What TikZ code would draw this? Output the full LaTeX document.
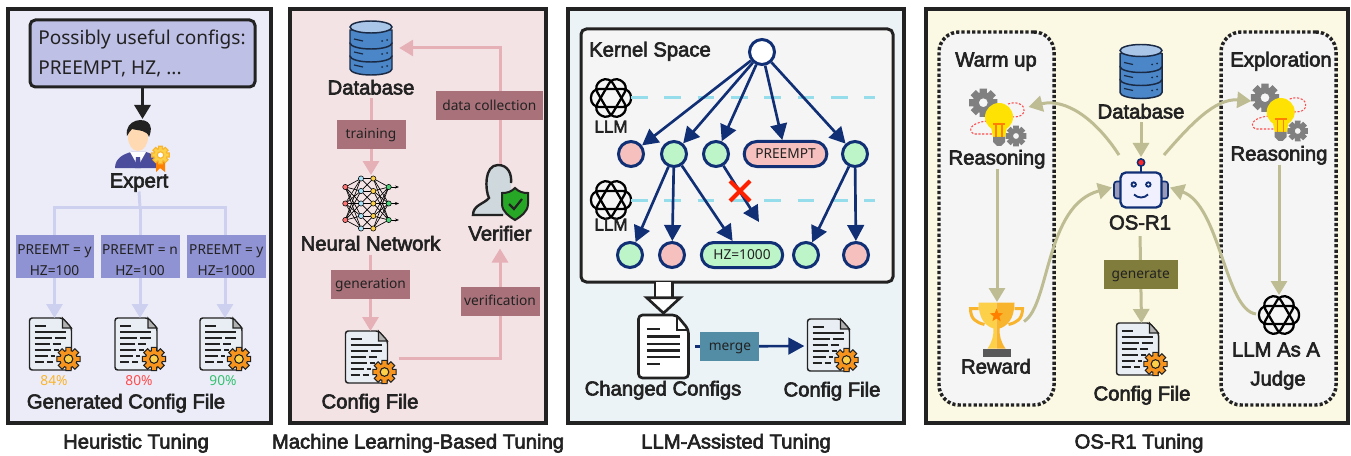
\documentclass[tikz,border=0pt]{standalone}
\usepackage{fontspec}
\setmainfont{Noto Sans}
\newfontfamily\labfont[FakeBold=3]{Liberation Sans}
\usepackage{xcolor}
\usetikzlibrary{calc, arrows.meta, shapes.misc}

\definecolor{ink}{HTML}{222222}
\definecolor{navy}{HTML}{102F75}
\definecolor{panelA}{HTML}{ECECF8}
\definecolor{panelB}{HTML}{F4E3E5}
\definecolor{panelC}{HTML}{EBF3F7}
\definecolor{panelD}{HTML}{FBF8E3}
\definecolor{softgray}{HTML}{F5F5F5}
\definecolor{ideafill}{HTML}{BFC0E6}
\definecolor{treeblue}{HTML}{CDD0EF}
\definecolor{tagblue}{HTML}{9093D3}
\definecolor{rosy}{HTML}{E5B0B6}
\definecolor{tagrose}{HTML}{A9727A}
\definecolor{tagteal}{HTML}{528DA5}
\definecolor{olive}{HTML}{BDBC93}
\definecolor{tagolive}{HTML}{807C3B}
\definecolor{badnode}{HTML}{F5C0BD}
\definecolor{goodnode}{HTML}{BDF5C8}
\definecolor{dashcyan}{HTML}{95DDEA}
\definecolor{docfill}{HTML}{E8EEF3}
\definecolor{gearorange}{HTML}{F7941E}
\definecolor{dbblue}{HTML}{4A86C8}
\definecolor{dblight}{HTML}{A9C5E8}
\definecolor{dbdark}{HTML}{1A2A44}
\definecolor{goldA}{HTML}{FDD04A}
\definecolor{goldB}{HTML}{F9B42D}
\definecolor{vergray}{HTML}{CFD8DC}

% gear: x, y, radius, fill, stroke, hole
\newcommand{\gearat}[6]{%
  \filldraw[fill=#4,draw=#5,line width=.8pt,shift={(#1,#2)}]
    (-13:#3) \foreach \a in {0,45,...,315}{ -- (\a-13:#3) -- (\a+13:#3) -- (\a+18:#3*.72) -- (\a+27:#3*.72)} -- cycle;
  \filldraw[fill=#6,draw=#5,line width=.8pt] (#1,#2) circle[radius=#3*.36];
}

\tikzset{
  boxwh/.style 2 args={minimum width=#1*0.75pt,minimum height=#2*0.75pt,inner sep=0pt,outer sep=0pt},
  panel/.style={draw=ink,line width=3pt},
  lab/.style={font=\labfont\fontsize{15.2}{19}\selectfont,text=ink,inner sep=0pt,outer xsep=0pt,outer ysep=1.5pt,text height=11.25pt,text depth=1.5pt},
  small/.style={font=\fontsize{10.3}{15.75}\selectfont,text=ink,inner sep=0pt},
  tag/.style={small,minimum height=21.75pt,fill=#1,text height=8pt,text depth=1.6pt},
  opt/.style={small,align=center,boxwh={#1}{43},fill=tagblue},
  head/.style={-{Triangle[length=10.5pt,width=12pt]}},
  blackline/.style={draw=ink,line width=2.25pt,head},
  treeline/.style={draw=treeblue,line width=2.25pt},
  rosyline/.style={draw=rosy,line width=2.25pt,head},
  oliveline/.style={draw=olive,line width=2.25pt,head},
  navyline/.style={draw=navy,line width=2pt,-{Triangle[length=12pt,width=12.5pt]}},
  knode/.style={circle,draw=navy,line width=2.25pt,minimum size=18.75pt,inner sep=0pt},
  kpill/.style={rounded rectangle,draw=navy,line width=2.25pt,minimum height=18.75pt,inner sep=0pt,small},
  dashline/.style={draw=dashcyan,line width=2.25pt,dash pattern=on 12.5pt off 12.5pt},
  halo/.style={boxwh={115}{373},draw=ink,fill=softgray,line width=2.6pt,rounded corners=15pt,dash pattern=on 2.4pt off 1.6pt},
  cfgicon/.pic={
    \filldraw[fill=docfill,draw=ink,line width=1.1pt,rounded corners=2pt] (-25,-27) -- (8,-27) -- (17,-17) -- (17,25) -- (-25,25) -- cycle;
    \filldraw[fill=black!30,draw=ink,line width=.8pt] (8,-27) -- (8,-17) -- (17,-17) -- cycle;
    \foreach \ya/\xa/\xb in {-19/-20/-9,-13/-20/11,-7/-20/-3,-7/0/11,-1/-20/-5,-1/-2/6,5/-20/-4,5/-1/4,11/-20/-7,11/-4/0,17/-20/-11,17/-8/-2}
      \draw[ink,line width=1pt] (\xa,\ya) -- (\xb,\ya);
    \gearat{14}{14}{12}{gearorange}{ink}{goldA}
  },
  dbicon/.pic={
    \foreach \y in {8,-5,-18}{
      \filldraw[fill=dbblue,draw=dbdark,line width=1.1pt] (-21,\y) -- (-21,\y+13) arc[start angle=180,end angle=0,x radius=21,y radius=6] -- (21,\y) -- cycle;
      \draw[dbdark,line width=.9pt] (-17,\y+9) -- (-8,\y+11);
      \fill[dbdark] (11,\y+11) circle[radius=1] (16,\y+10) circle[radius=1];
    }
    \filldraw[fill=dblight,draw=dbdark,line width=1.1pt] (0,-21) ellipse[x radius=21,y radius=6];
  },
  experticon/.pic={
    \fill[blue!45!black!70!white] (-25,22) .. controls (-25,12) and (-16,8) .. (-9,6) -- (6,6) .. controls (14,8) and (17,12) .. (17,22) -- cycle;
    \fill[white] (-10,6) -- (-2,20) -- (6,6) -- cycle;
    \fill[blue!45!black!70!white] (-4,11) -- (0,11) -- (1,22) -- (-5,22) -- cycle;
    \fill[orange!30!white] (-2,-9) ellipse[x radius=10,y radius=14];
    \fill[ink] (-13,-10) .. controls (-16,-27) and (6,-30) .. (10,-21) .. controls (12,-16) and (10,-12) .. (9,-9) .. controls (7,-16) and (0,-15) .. (-8,-17) .. controls (-11,-15) and (-11,-12) .. (-13,-10) -- cycle;
    \fill[orange] (16,12) -- (16,26) -- (20,22) -- (25,26) -- (25,12) -- cycle;
    \gearat{20.5}{9}{9}{goldA}{goldB}{white}
  },
  neuralicon/.pic={
    \foreach \ya in {-16.5,0,16.5}{
      \foreach \yb in {-25,-12.5,0,12.5,25}{
        \draw[black,line width=.5pt] (-25.7,\ya) -- (-10,\yb);
        \draw[black,line width=.5pt] (2.3,\yb) -- (17.7,\ya);
      }
      \draw[black,line width=.5pt,-{Stealth[length=3pt]}] (17.7,\ya) -- (28,\ya);
    }
    \foreach \ya/\yb in {-25/-25,-25/-12.5,-12.5/-25,-12.5/-12.5,-12.5/0,0/-12.5,0/0,0/12.5,12.5/0,12.5/12.5,12.5/25,25/12.5,25/25}
      \draw[black,line width=.5pt] (-10,\ya) -- (2.3,\yb);
    \foreach \ya in {-16.5,0,16.5}{
      \filldraw[fill=red!55!white,draw=black,line width=.4pt] (-25.7,\ya) circle[radius=2.6];
      \filldraw[fill=green!50!teal!70!white,draw=black,line width=.4pt] (17.7,\ya) circle[radius=2.6];
    }
    \foreach \ya in {-25,-12.5,0,12.5,25}{
      \filldraw[fill=cyan!35!white,draw=black,line width=.4pt] (-10,\ya) circle[radius=2.6];
      \filldraw[fill=goldA,draw=black,line width=.4pt] (2.3,\ya) circle[radius=2.6];
    }
  },
  verificon/.pic={
    \fill[vergray] (-27,23) .. controls (-27,13) and (-16,12) .. (-11,6) .. controls (-15,-2) and (-16,-27) .. (-2,-27) .. controls (8,-27) and (12,-18) .. (11,-10) -- (11,23) -- cycle;
    \draw[ink,line width=1.8pt] (3,23) -- (-27,23) .. controls (-27,13) and (-16,12) .. (-11,6) .. controls (-15,-2) and (-16,-27) .. (-2,-27) .. controls (8,-27) and (12,-18) .. (11,-9);
    \filldraw[fill=green!60!black!85!white,draw=ink,line width=1.5pt] (15,-4) .. controls (11,0) and (7,1) .. (2,1) -- (2,12) .. controls (2,20) and (10,25) .. (15,28) .. controls (20,25) and (28,20) .. (28,12) -- (28,1) .. controls (23,1) and (19,0) .. (15,-4) -- cycle;
    \draw[ink,line width=1.6pt] (9,12) -- (14,17) -- (22,7);
  },
  gpticon/.pic={
    \foreach \a in {0,60,120}
      \draw[black,line width=1.7pt,rotate=\a,rounded corners=6.2pt] (-20,-9) rectangle (20,9);
  },
  bulbicon/.pic={
    \gearat{-15.7}{-14.3}{14}{black!50}{black!50}{softgray}
    \gearat{17}{19}{10}{black!50}{black!50}{softgray}
    \draw[red!70,line width=.8pt,dash pattern=on 1.6pt off 1.2pt] (9,-13) .. controls (20,-17) and (27,-10) .. (25,-5) .. controls (23,0) and (18,0) .. (12,0);
    \draw[red!70,line width=.8pt,dash pattern=on 1.6pt off 1.2pt] (-12,4) .. controls (-30,6) and (-31,14) .. (-25,17) -- (-6,17);
    \fill[yellow!85!orange] (0,0) circle[radius=14];
    \fill[yellow!85!orange] (-8,10) -- (8,10) -- (6,20) -- (-6,20) -- cycle;
    \draw[orange,line width=.9pt] (-3,20) -- (-3,7) (3,20) -- (3,7) (-6,7) -- (6,7);
    \fill[black!50] (-6,20) -- (6,20) -- (6,25) -- (2,29) -- (-2,29) -- (-6,25) -- cycle;
  },
  trophyicon/.pic={
    \draw[goldB,line width=2.25pt] (-18,-21) -- (-26,-21) .. controls (-26,-10) and (-20,-7) .. (-12,-5);
    \draw[goldB,line width=2.25pt] (18,-21) -- (26,-21) .. controls (26,-10) and (20,-7) .. (12,-5);
    \fill[goldA] (-18,-27) -- (0,-27) -- (0,19) -- (-9,19) .. controls (-4,12) and (-3,6) .. (-3,-1) .. controls (-10,-3) and (-18,-10) .. (-18,-27) -- cycle;
    \fill[goldB] (18,-27) -- (0,-27) -- (0,19) -- (9,19) .. controls (4,12) and (3,6) .. (3,-1) .. controls (10,-3) and (18,-10) .. (18,-27) -- cycle;
    \fill[black!65] (-14,19) rectangle (14,27);
    \fill[orange,shift={(0,-14)}] (-90:7) \foreach \a in {0,72,...,288}{ -- (\a-90:7) -- (\a-54:3)} -- cycle;
  },
  roboticon/.pic={
    \filldraw[fill=blue!30!black!40!white,draw=navy,line width=1.2pt,rounded corners=2pt] (-27,-1) rectangle (27,16);
    \draw[navy,line width=1.5pt] (0,-10) -- (0,-20);
    \filldraw[fill=red!80!pink,draw=navy,line width=1.2pt] (0,-20) circle[radius=3.6];
    \filldraw[fill=blue!6!white,draw=navy,line width=1.7pt,rounded corners=4pt] (-20.5,-10) rectangle (20.5,25);
    \fill[navy] (-7.3,2) circle[radius=3.2] (7.3,2) circle[radius=3.2];
    \fill[white] (-7.3,2) circle[radius=1.2] (7.3,2) circle[radius=1.2];
    \draw[navy,line width=1.4pt] (-7,12) .. controls (-3,16) and (3,16) .. (7,12);
  },
  plaindoc/.pic={
    \filldraw[fill=white,draw=ink,line width=2pt,rounded corners=3pt] (-25,-31.5) -- (13,-31.5) -- (25,-17) -- (25,31.5) -- (-25,31.5) -- cycle;
    \draw[ink,line width=1.5pt] (13,-31.5) -- (13,-17) -- (25,-17);
    \foreach \ya/\xb in {-17.7/-4,-10/16,-2.7/16,4/16,10.7/16,17.3/-4}
      \draw[ink,line width=1.7pt] (-16.7,\ya) -- (\xb,\ya);
  }
}

\begin{document}
\begin{tikzpicture}[x=0.75pt,y=-0.75pt]
  \useasboundingbox[fill=white] (0,0) rectangle (1351,456);

  % panels
  \node[panel,boxwh={263}{413.5},fill=panelA] (heur) at (139.5,216) {};
  \node[panel,boxwh={256}{413.5},fill=panelB] (mlbox) at (418,216) {};
  \node[panel,boxwh={336}{413.5},fill=panelC] (llmbox) at (736,216) {};
  \node[panel,boxwh={422}{413.5},fill=panelD] (osbox) at (1137,216) {};

  \node[lab] (capA) at (136,442) {Heuristic Tuning};
  \node[lab] (capB) at (418,442) {Machine Learning-Based Tuning};
  \node[lab] (capC) at (736,442) {LLM-Assisted Tuning};
  \node[lab] (capD) at (1139,442) {OS-R1 Tuning};

  % heuristic tuning
  \node[boxwh={225}{67},draw=ink,line width=2.25pt,rounded corners=4pt,fill=ideafill] (idea) at (142.5,53.5) {};
  \node[small,font=\fontsize{14.3}{22.5}\selectfont,anchor=west,align=left] (ideatext) at (38,53.5) {Possibly useful configs:\\PREEMPT, HZ, ...};
  \node[boxwh={52}{54}] (expert) at (140,146) {};
  \pic at (expert) {experticon};
  \node[lab] (experttext) at (139,181) {Expert};
  \coordinate (fork) at (140,207);
  \node[boxwh={51}{54}] (cfgA) at (54.5,345) {};
  \node[boxwh={51}{54}] (cfgB) at (140,345) {};
  \node[boxwh={51}{54}] (cfgC) at (225,345) {};
  \pic at (cfgA) {cfgicon};
  \pic at (cfgB) {cfgicon};
  \pic at (cfgC) {cfgicon};
  \draw[blackline] (idea.south) -- (idea.south |- expert.north);
  \draw[treeline] (experttext.south) -- (fork);
  \draw[treeline,head] (fork) -| node[pos=.725,opt=78] (optA) {\rule{0pt}{12.5pt}PREEMT = y\\HZ=100} (cfgA.north);
  \draw[treeline,head] (fork) -- node[pos=.45,opt=79] (optB) {\rule{0pt}{12.5pt}PREEMT = n\\HZ=100} (cfgB.north);
  \draw[treeline,head] (fork) -| node[pos=.725,opt=79,xshift=1pt] (optC) {\rule{0pt}{12.5pt}PREEMT = y\\HZ=1000} (cfgC.north);
  \node[small,text=goldB] (pctA) at (54,381) {84\%};
  \node[small,text=red!70!white] (pctB) at (139,381) {80\%};
  \node[small,text=teal!60!green!80!white] (pctC) at (223,381) {90\%};
  \node[lab] (gentext) at (126,402) {Generated Config File};

  % machine learning
  \node[boxwh={43}{54}] (dbML) at (371,48) {};
  \pic at (dbML) {dbicon};
  \node[lab] (dbMLtext) at (371,88) {Database};
  \node[boxwh={56}{57}] (nnet) at (371,203.5) {};
  \pic at (nnet) {neuralicon};
  \node[lab] (nnettext) at (370.5,244) {Neural Network};
  \node[boxwh={51}{54}] (cfgML) at (370.5,358) {};
  \pic at (cfgML) {cfgicon};
  \node[lab] (cfgMLtext) at (370,402) {Config File};
  \node[boxwh={56}{56}] (verif) at (500,192) {};
  \pic at (verif) {verificon};
  \node[lab] (veriftext) at (500,234) {Verifier};
  \draw[rosyline] (dbMLtext.south) -- node[pos=.47,tag=tagrose,minimum width=51.75pt] (train) {training} (nnet.north);
  \draw[rosyline] (nnettext.south) -- node[pos=.39,tag=tagrose,minimum width=59.25pt] (gener) {generation} (cfgML.north);
  \draw[rosyline,shorten <=2pt,shorten >=3pt] (cfgML.east) -| node[pos=.75,tag=tagrose,minimum width=59.25pt] (verify) {verification} (veriftext.south);
  \draw[rosyline,shorten >=5pt] (verif.north) |- node[pos=.25,tag=tagrose,minimum width=80.25pt,xshift=-8pt] (collect) {data collection} (dbML.east);

  % llm assisted
  \node[panel,line width=2.25pt,boxwh={312}{253},rounded corners=4pt,fill=softgray] (kernel) at (737,155.5) {};
  \node[lab] (kerneltext) at (650,50) {Kernel Space};
  \node[boxwh={40}{40}] (gptA) at (611,98) {};
  \node[boxwh={40}{40}] (gptB) at (611,200) {};
  \pic at (gptA) {gpticon};
  \pic at (gptB) {gpticon};
  \node[lab,font=\labfont\fontsize{12.8}{16}\selectfont] (llmA) at (611,126) {LLM};
  \node[lab,font=\labfont\fontsize{12.8}{16}\selectfont] (llmB) at (611,224) {LLM};
  \coordinate (dashA) at (875,98);
  \coordinate (dashB) at (875,200);
  \draw[dashline] (gptA.east) -- (dashA);
  \draw[dashline] (gptB.east) -- (dashB);

  \node[knode,fill=white] (root) at (762,52) {};
  \node[knode,fill=badnode] (a1) at (631,154) {};
  \node[knode,fill=goodnode] (a2) at (674,154) {};
  \node[knode,fill=goodnode] (a3) at (716,154) {};
  \node[kpill,fill=badnode,minimum width=62pt] (preempt) at (785.5,154) {PREEMPT};
  \node[knode,fill=goodnode] (a5) at (855,154) {};
  \node[knode,fill=goodnode] (b1) at (630,255) {};
  \node[knode,fill=badnode] (b2) at (672,255) {};
  \node[kpill,fill=goodnode,minimum width=61pt] (hz) at (742,255) {HZ=1000};
  \node[knode,fill=goodnode] (b4) at (806,255) {};
  \node[knode,fill=badnode] (b5) at (856,255) {};
  \coordinate (cutoff) at (759,222);
  \coordinate (cross) at (740,191);

  \draw[navyline] (root) -- (a1);
  \draw[navyline] (root) -- (a2);
  \draw[navyline] (root) -- (a3);
  \draw[navyline] (root) -- (preempt);
  \draw[navyline] (root) -- (a5);
  \draw[navyline] (a2) -- (b1);
  \draw[navyline] (a2) -- (b2);
  \draw[navyline] (a2) -- (hz);
  \draw[navyline] (a3) -- (cutoff);
  \draw[navyline] (a5) -- (b4);
  \draw[navyline] (a5) -- (b5);
  \draw[red!75!orange,line width=3pt] (cross) ++(-10,-10) -- ++(20,20) (cross) ++(10,-10) -- ++(-20,20);

  \node[boxwh={50}{63}] (changed) at (663.5,346.5) {};
  \pic at (changed) {plaindoc};
  \node[lab] (changedtext) at (663,389) {Changed Configs};
  \node[boxwh={51}{54}] (cfgLLM) at (832.5,346) {};
  \pic at (cfgLLM) {cfgicon};
  \node[lab] (cfgLLMtext) at (832,390) {Config File};
  \draw[draw=ink,line width=2pt,double=white,double distance=11pt,-{Triangle[open,fill=white,length=14pt,width=30pt,line width=2pt]}] (changed.north |- kernel.south) -- (changed.north);
  \draw[navyline,shorten <=5pt,shorten >=2pt] (changed.east) -- node[pos=.35,tag=tagteal,minimum width=44.25pt] (merge) {merge} (cfgLLM.west);

  % os-r1
  \node[halo] (warm) at (996.5,218.5) {};
  \node[halo] (explore) at (1278.5,218.5) {};
  \node[lab] (warmtext) at (996,60) {Warm up};
  \node[lab] (exploretext) at (1281,60) {Exploration};
  \node[boxwh={43}{54}] (dbOS) at (1141,71.5) {};
  \pic at (dbOS) {dbicon};
  \node[lab] (dbOStext) at (1141,112) {Database};
  \node[boxwh={56}{51}] (robot) at (1141,182.5) {};
  \pic at (robot) {roboticon};
  \node[lab] (robottext) at (1140,223) {OS-R1};
  \node[boxwh={51}{54}] (cfgOS) at (1141.5,350) {};
  \pic at (cfgOS) {cfgicon};
  \node[lab] (cfgOStext) at (1142,394) {Config File};
  \node[boxwh={55}{58}] (bulbL) at (999,117) {};
  \pic at (bulbL) {bulbicon};
  \node[lab] (bulbLtext) at (997,158) {Reasoning};
  \node[boxwh={55}{58}] (bulbR) at (1280.7,112) {};
  \pic at (bulbR) {bulbicon};
  \node[lab] (bulbRtext) at (1279,154) {Reasoning};
  \node[boxwh={55}{55}] (trophy) at (996.5,329.5) {};
  \pic at (trophy) {trophyicon};
  \node[lab] (trophytext) at (996,367) {Reward};
  \node[boxwh={40}{40}] (judge) at (1279,315) {};
  \pic at (judge) {gpticon};
  \node[lab] (judgeA) at (1276,350) {LLM As A};
  \node[lab] (judgeB) at (1278,379) {Judge};

  \draw[oliveline] (dbOStext.south) -- (robot.north);
  \draw[oliveline,shorten <=2pt] (robottext.south) -- node[pos=.46,tag=tagolive,minimum width=55.5pt] (gen) {generate} (cfgOS.north);
  \draw[oliveline] (bulbLtext.south) -- (bulbLtext.south |- trophy.north);
  \draw[oliveline] (bulbRtext.south) -- (bulbRtext.south |- judge.north);
  \draw[oliveline] ($(robot.north west)+(6,-2)$) .. controls (1095,118) and (1065,98) .. ($(bulbL.north east)+(2,19)$);
  \draw[oliveline] ($(robot.north east)+(-5,-2)$) .. controls (1190,125) and (1215,98) .. ($(bulbR.north west)+(-2,18)$);
  \draw[oliveline] ($(trophy.east)+(0,-8)$) .. controls (1050,305) and (1045,205) .. ($(robot.west)+(-1,5)$);
  \draw[oliveline] ($(judge.west)+(-3,-1)$) .. controls (1225,310) and (1220,205) .. ($(robot.east)+(1,5)$);
\end{tikzpicture}
\end{document}
